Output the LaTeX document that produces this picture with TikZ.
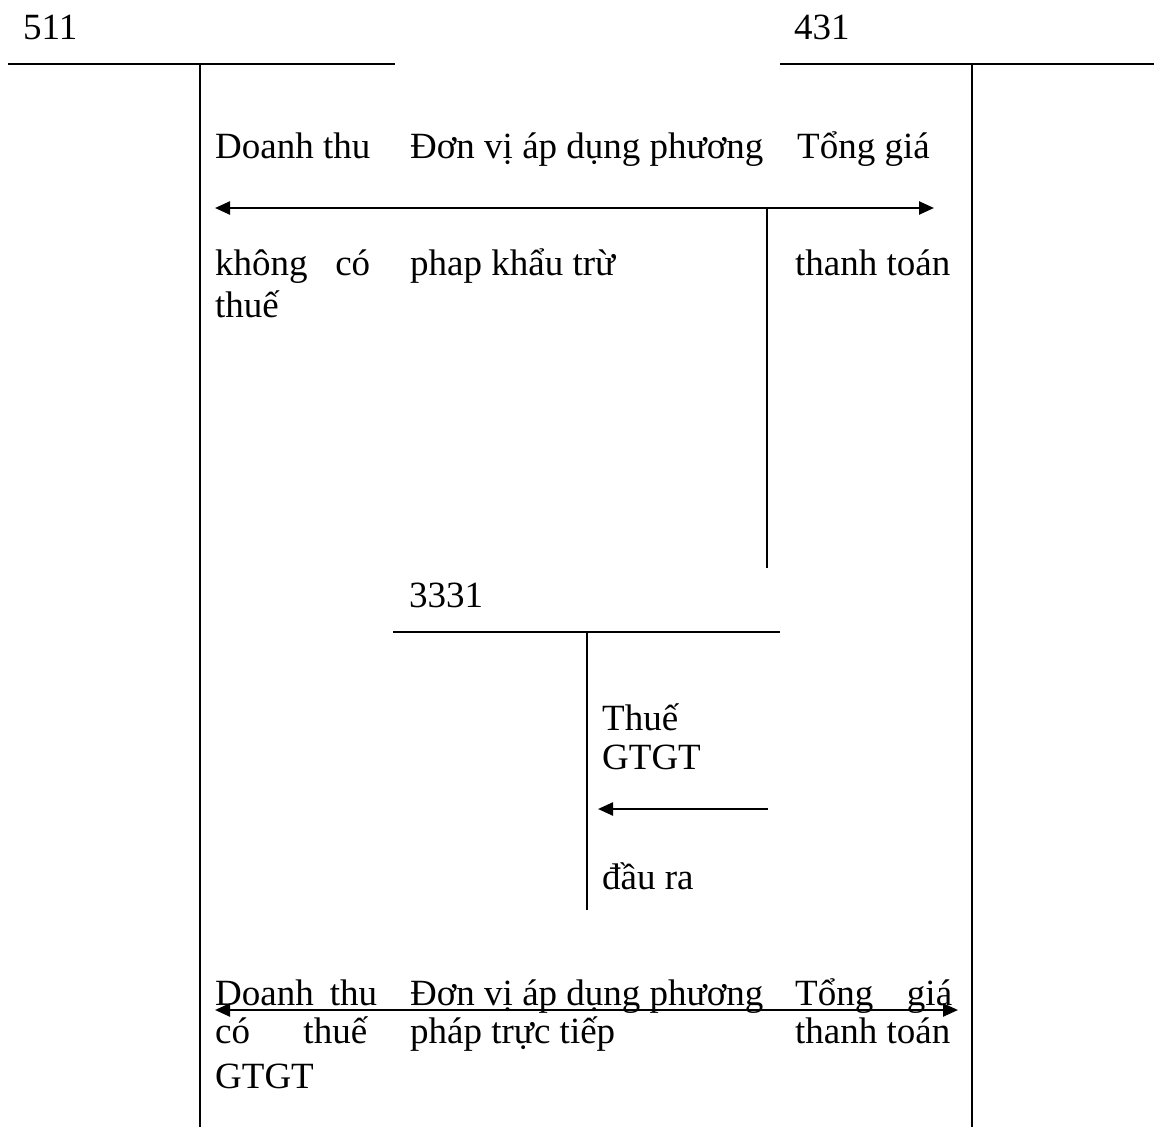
\documentclass[tikz,border=0pt]{standalone}
\usepackage{fontspec}
\setmainfont{Liberation Serif}
\usetikzlibrary{arrows.meta}
\begin{document}
\begin{tikzpicture}[x=1pt,y=-1pt,
  acct/.style={line width=2pt},
  flow/.style={line width=2.4pt},
  tip/.style={-{Triangle[length=15pt,width=13pt]}},
  lbl/.style={anchor=base west,inner sep=0pt,font=\fontsize{37}{41}\selectfont}]
\useasboundingbox (0,0) rectangle (1154,1127);
% account 511
\coordinate (s511L) at (8,64);
\coordinate (s511R) at (395,64);
\coordinate (s511T) at (200,64);
\coordinate (s511B) at (200,1127);
\draw[acct] (s511L) -- (s511R);
\draw[acct] (s511T) -- (s511B);
\node[lbl] (n511) at (23,39) {511};
% account 431
\coordinate (s431L) at (780,64);
\coordinate (s431R) at (1154,64);
\coordinate (s431T) at (972,64);
\coordinate (s431B) at (972,1127);
\draw[acct] (s431L) -- (s431R);
\draw[acct] (s431T) -- (s431B);
\node[lbl] (n431) at (794,39) {431};
% account 3331
\coordinate (s3331L) at (393,632);
\coordinate (s3331R) at (780,632);
\coordinate (s3331T) at (587,632);
\coordinate (s3331B) at (587,910);
\draw[acct] (s3331L) -- (s3331R);
\draw[acct] (s3331T) -- (s3331B);
\node[lbl] (n3331) at (409,607) {3331};
% top flow
\coordinate (tL) at (215,208);
\coordinate (tR) at (934,208);
\coordinate (tJ) at (767,208);
\coordinate (tD) at (767,568);
\draw[flow,tip] (tJ) -- (tL);
\draw[flow,tip] (tJ) -- (tR);
\draw[acct] (tJ) -- (tD);
% small flow into 3331
\coordinate (mS) at (768,809);
\coordinate (mE) at (598,809);
\draw[flow,tip] (mS) -- (mE);
% bottom flow
\coordinate (bL) at (215,1010);
\coordinate (bR) at (958,1010);
\draw[flow,{Triangle[length=15pt,width=13pt]}-{Triangle[length=15pt,width=13pt]}] (bL) -- (bR);
% top texts
\node[lbl] (t1a) at (215,158) {Doanh thu};
\node[lbl] (t2a) at (410,158) {Đơn vị áp dụng phương};
\node[lbl] (t3a) at (797,158) {Tổng giá};
\node[lbl] (t1b) at (215,275) {\hbox to 155pt{không\hfill có}};
\node[lbl] (t1c) at (215,317) {thuế};
\node[lbl] (t2b) at (410,275) {phap khẩu trừ};
\node[lbl] (t3b) at (795,275) {thanh toán};
% middle texts
\node[lbl] (m1) at (602,730) {Thuế};
\node[lbl] (m2) at (602,769) {GTGT};
\node[lbl] (m3) at (602,889) {đầu ra};
% bottom texts
\node[lbl] (b1a) at (215,1005) {\hbox to 162pt{Doanh\hfill thu}};
\node[lbl] (b2a) at (410,1005) {Đơn vị áp dụng phương};
\node[lbl] (b3a) at (795,1005) {\hbox to 157pt{Tổng\hfill giá}};
\node[lbl] (b1b) at (215,1043) {\hbox to 152pt{có\hfill thuế}};
\node[lbl] (b1c) at (215,1088) {GTGT};
\node[lbl] (b2b) at (410,1043) {pháp trực tiếp};
\node[lbl] (b3b) at (795,1043) {thanh toán};
\end{tikzpicture}
\end{document}
